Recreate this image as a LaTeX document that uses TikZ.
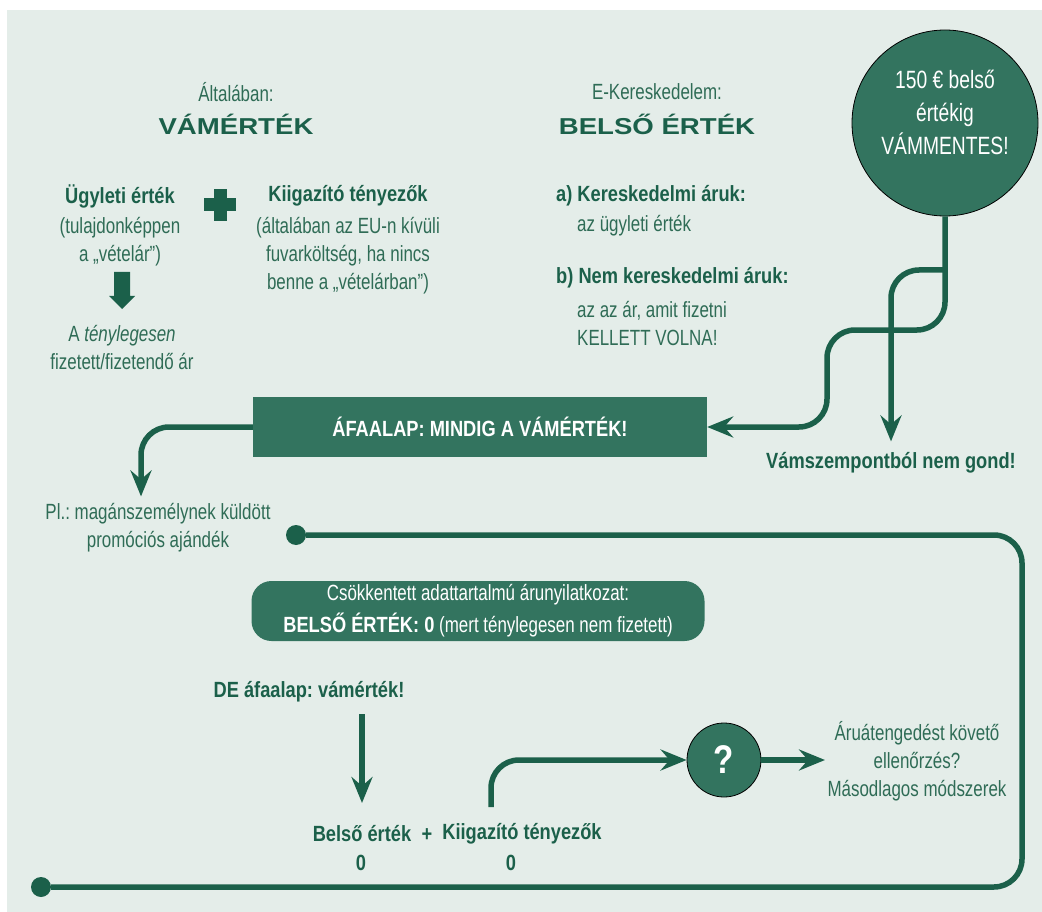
\documentclass[tikz,border=0pt]{standalone}
\usepackage{fontspec}
\setmainfont[UprightFeatures={FakeStretch=0.77},
             ItalicFeatures={FakeStretch=0.77},
             BoldFeatures={FakeStretch=0.83}]{Liberation Sans}
\newfontfamily\widefont[FakeStretch=1.2]{Liberation Sans}
\usetikzlibrary{arrows.meta}

\definecolor{panelbg}{RGB}{228,237,233}
\definecolor{darkgreen}{RGB}{27,96,74}
\definecolor{boxgreen}{RGB}{51,116,95}
\definecolor{txtgreen}{RGB}{47,108,86}

\begin{document}
\frenchspacing
\begin{tikzpicture}[x=1pt,y=-1pt,
    >={Stealth[length=26pt,width=21pt,inset=9pt]},
    txt/.style={font=\fontsize{22}{28}\selectfont, text=txtgreen, align=center, inner sep=0pt},
    lbl/.style={font=\fontsize{22}{28}\selectfont\bfseries, text=darkgreen, inner sep=0pt},
    head/.style={font=\widefont\bfseries\fontsize{23}{26}\selectfont, text=darkgreen, inner sep=0pt},
    wtxt/.style={font=\fontsize{22}{32}\selectfont, text=white, align=center, inner sep=0pt},
    conn/.style={draw=darkgreen, line width=5.5pt, rounded corners=28pt},
    dot/.style={circle, fill=darkgreen, minimum size=20pt, inner sep=0pt}]

    \useasboundingbox (0,0) rectangle (1042,912);
    \fill[panelbg] (7,10) rectangle (1042,912);

    % headings
    \node[txt] (gen) at (236,92) {Általában:};
    \node[head] (vam) at (236,124) {VÁMÉRTÉK};
    \node[txt] (ecom) at (657,92) {E-Kereskedelem:};
    \node[head] (bel) at (657,124) {BELSŐ ÉRTÉK};

    \node[circle,
          draw = black,
          line width = 0.8pt,
          fill = boxgreen,
          minimum size = 186pt
          ] (limit) at (945,123) {};
    \node[font=\fontsize{25}{33}\selectfont, text=white, align=center]
        at ([yshift=11pt]limit.center) {150 € belső\\értékig\\VÁMMENTES!};

    % left column
    \node[lbl] (ugy) at (120,196) {Ügyleti érték};
    \node[txt] (ugytxt) at (120,242) {(tulajdonképpen\\a „vételár”)};
    \fill[darkgreen] (114,272) -- (130,272) -- (130,296) -- (135,296)
        -- (122,309) -- (109,296) -- (114,296) -- cycle;
    \node[txt] (teny) at (122,348) {A \textit{ténylegesen}\\fizetett/fizetendő ár};

    \fill[darkgreen] (204,198.5) rectangle (236,211.5);
    \fill[darkgreen] (213.5,189) rectangle (226.5,221);

    \node[lbl] (kii) at (348,196) {Kiigazító tényezők};
    \node[txt] (kiitxt) at (348,256) {(általában az EU-n kívüli\\fuvarköltség, ha nincs\\benne a „vételárban”)};

    % right column
    \node[lbl, anchor=west] (kera) at (556,196) {a) Kereskedelmi áruk:};
    \node[txt, anchor=west] (keratxt) at (577,226) {az ügyleti érték};
    \node[lbl, anchor=west] (nemb) at (556,278) {b) Nem kereskedelmi áruk:};
    \node[txt, anchor=west, align=left] (nembtxt) at (577,324) {az az ár, amit fizetni\\KELLETT VOLNA!};

    % vat base
    \node[rectangle,
          fill = boxgreen,
          minimum width = 454pt,
          minimum height = 60pt
          ] (afa) at (480,427) {};
    \node[lbl, text=white] at (afa.center) {ÁFAALAP: MINDIG A VÁMÉRTÉK!};

    \node[lbl] (gond) at (891,463) {Vámszempontból nem gond!};
    \node[txt] (pl) at (158,528) {Pl.: magánszemélynek küldött\\promóciós ajándék};

    \coordinate (split) at (945,270);
    \draw[conn,->] (limit.south) |- (827,330) |- (afa.east);
    \draw[conn,->] (split) -| ([yshift=11pt]gond.north);
    \draw[conn,->] (afa.west) -| ([xshift=-17pt,yshift=7pt]pl.north);

    % reduced declaration
    \node[rectangle,
          rounded corners = 20pt,
          fill = boxgreen,
          minimum width = 453pt,
          minimum height = 60pt
          ] (red) at (478,611) {};
    \node[wtxt] at (red.center) {Csökkentett adattartalmú árunyilatkozat:\\\textbf{BELSŐ ÉRTÉK: 0} (mert ténylegesen nem fizetett)};

    \node[lbl] (de) at (309,692) {DE áfaalap: vámérték!};
    \node[lbl] (belso) at (362,834) {Belső érték};
    \node[lbl] (plus) at (427,835) {+};
    \node[lbl] (kii2) at (522,834) {Kiigazító tényezők};
    \node[lbl] (belso0) at (361,863) {0};
    \node[lbl] (kii0) at (511,863) {0};

    \node[circle,
          draw = black,
          line width = 0.8pt,
          fill = boxgreen,
          minimum size = 74pt
          ] (q) at (724,760) {};
    \node[font=\fontsize{40}{40}\selectfont\bfseries, text=white] at (q.center) {?};
    \node[txt] (ctrl) at (917,761) {Áruátengedést követő\\ellenőrzés?\\Másodlagos módszerek};

    \coordinate (destart) at (362,714);
    \coordinate (deend) at (362,803);
    \coordinate (kiiup) at (491,807);
    \coordinate (ctrlin) at (825,760);

    \draw[conn,->] (destart) -- (deend);
    \draw[conn,->] (q) -- (ctrlin);
    \draw[conn,->] (kiiup) |- (q.west);

    % loop back
    \node[dot] (dota) at (296,535) {};
    \node[dot] (dotb) at (41,887) {};
    \draw[conn] (dota) -- (1022,535) -- (1022,887) -- (dotb);

\end{tikzpicture}
\end{document}
